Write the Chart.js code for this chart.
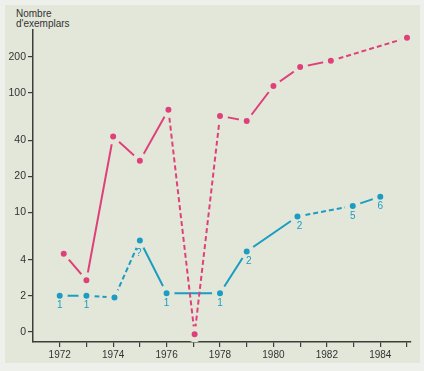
<!DOCTYPE html>
<html>
<head>
<meta charset="utf-8">
<script src="https://cdn.jsdelivr.net/npm/chart.js@4/dist/chart.umd.min.js"></script>
<style>
  html, body { margin: 0; padding: 0; background: #eef0ec; }
  #wrap { position: relative; width: 424px; height: 371px; }
  #paper { position: absolute; left: 5px; top: 5px; width: 415px; height: 358px; background: #e3e7da; }
  #title { position: absolute; left: 16px; top: 9px; font: 10px "Liberation Sans", Arial, sans-serif; color: #333; line-height: 10px; }
  canvas { position: absolute; left: 0; top: 0; }
</style>
</head>
<body>
<div id="wrap">
  <div id="paper"></div>
  <div id="title">Nombre<br>d'exemplars</div>
  <canvas id="chart" width="424" height="371"></canvas>
</div>
<script>
// y axis is logarithmic; the "0" tick sits where 1 would be
const yTicks = [1, 2, 4, 10, 20, 40, 100, 200];
const yTickLabels = ['0', '2', '4', '10', '20', '40', '100', '200'];

// pink series
const pinkYears  = [1972.15, 1973, 1974, 1975, 1976.07, 1977.05, 1978, 1979, 1980, 1981, 1982.15, 1985];
const pinkValues = [4.5, 2.7, 43, 27, 72, 0.95, 64, 58, 114, 164, 185, 288];
const pinkDashed = [false, false, false, false, true, true, false, false, false, false, true];

// blue series
const blueYears  = [1972, 1973, 1974.05, 1975, 1976, 1978, 1979, 1980.9, 1982.97, 1984];
const blueValues = [2, 2, 1.93, 5.8, 2.1, 2.1, 4.7, 9.2, 11.3, 13.5];
const blueDashed = [false, true, true, false, false, false, false, true, false];
const blueLabels = ['1', '1', '', '?', '1', '1', '2', '2', '5', '6'];

const PINK = '#e0407a';
const BLUE = '#1b9cc2';
const PAPER = '#e3e7da';
const INK = '#3b3f3b';

function pts(xs, ys) {
    return xs.map((x, i) => ({ x: x, y: ys[i] }));
}

const pointLabels = {
    id: 'pointLabels',
    afterDatasetsDraw(chart) {
        const ctx = chart.ctx;
        const sx = chart.scales.x, sy = chart.scales.y;
        ctx.save();
        ctx.fillStyle = BLUE;
        ctx.font = '10px "Liberation Sans", Arial, sans-serif';
        ctx.textAlign = 'center';
        ctx.textBaseline = 'middle';
        blueLabels.forEach((t, i) => {
            if (!t) return;
            let dx = 0, dy = 10;
            if (t === '2') dx = 2;
            if (t === '?') { dx = -1; dy = 13; }
            ctx.fillText(t, sx.getPixelForValue(blueYears[i]) + dx, sy.getPixelForValue(blueValues[i]) + dy);
        });
        ctx.restore();
    }
};

new Chart(document.getElementById('chart'), {
    type: 'line',
    data: {
        datasets: [
            {
                data: pts(pinkYears, pinkValues),
                borderColor: PINK,
                backgroundColor: PINK,
                borderWidth: 2,
                pointRadius: 5.5,
                pointBorderWidth: 5,
                pointBorderColor: PAPER,
                pointBackgroundColor: PINK,
                segment: {
                    borderDash: c => pinkDashed[c.p0DataIndex] ? [5, 3] : undefined
                }
            },
            {
                data: pts(blueYears, blueValues),
                borderColor: BLUE,
                backgroundColor: BLUE,
                borderWidth: 2,
                pointRadius: 5.5,
                pointBorderWidth: 5,
                pointBorderColor: PAPER,
                pointBackgroundColor: BLUE,
                segment: {
                    borderDash: c => blueDashed[c.p0DataIndex] ? [5, 3] : undefined
                }
            }
        ]
    },
    options: {
        responsive: false,
        animation: false,
        layout: { padding: { left: 0, top: 30, right: 13, bottom: 0 } },
        plugins: { legend: { display: false }, tooltip: { enabled: false } },
        scales: {
            x: {
                type: 'linear',
                min: 1971,
                max: 1985.15,
                afterBuildTicks: s => { s.ticks = []; for (let y = 1972; y <= 1985; y++) s.ticks.push({ value: y }); },
                afterFit: s => { s.height = 29; },
                ticks: {
                    callback: v => (v % 2 === 0 ? String(v) : ''),
                    color: '#333',
                    font: { family: '"Liberation Sans", Arial, sans-serif', size: 10 },
                    padding: 2,
                    maxRotation: 0,
                    autoSkip: false
                },
                grid: { drawOnChartArea: false, color: INK, tickLength: 5, lineWidth: 1.2 },
                border: { color: INK, width: 1.5 }
            },
            y: {
                type: 'logarithmic',
                min: 0.82,
                max: 335,
                afterBuildTicks: s => { s.ticks = yTicks.map(v => ({ value: v })); },
                afterFit: s => { s.width = 33; },
                ticks: {
                    callback: v => yTickLabels[yTicks.indexOf(v)],
                    color: '#333',
                    font: { family: '"Liberation Sans", Arial, sans-serif', size: 10.5 },
                    padding: 2,
                    autoSkip: false
                },
                grid: { drawOnChartArea: false, color: INK, tickLength: 5, lineWidth: 1.2 },
                border: { color: INK, width: 1.5 }
            }
        }
    },
    plugins: [pointLabels]
});
</script>
</body>
</html>
